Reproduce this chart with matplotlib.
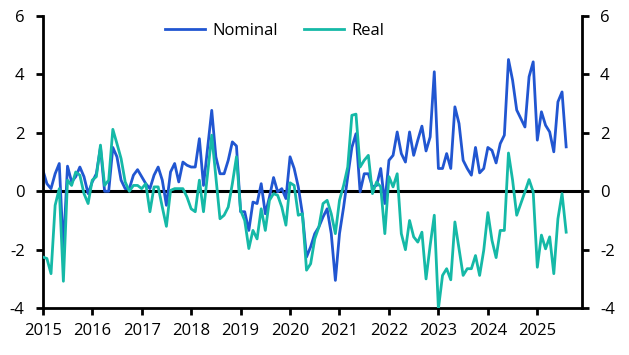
import matplotlib
matplotlib.use("Agg")
import matplotlib.pyplot as plt
import numpy as np

plt.rcParams['font.family'] = ['Open Sans', 'DejaVu Sans']
plt.rcParams['axes.unicode_minus'] = False

# monthly, Jan 2015 .. Aug 2025
start_year = 2015
nominal = [0.74, 0.26, 0.09, 0.6, 0.95, -2.0, 0.86, 0.32, 0.5, 0.83, 0.5, -0.08,
           0.32, 0.6, 1.5, 0.0, 0.0, 1.5, 1.18, 0.38, 0.09, 0.09, 0.55, 0.74,
           0.5, 0.26, 0.09, 0.55, 0.83, 0.38, -0.48, 0.66, 0.95, 0.32, 1.0, 0.89,
           0.83, 0.83, 1.8, 0.2, 1.5, 2.77, 1.18, 0.6, 0.6, 1.06, 1.69, 1.55,
           -0.7, -0.7, -1.34, -0.37, -0.42, 0.26, -0.77, -0.2, 0.47, -0.02, 0.09, -0.25,
           1.18, 0.78, 0.15, -0.77, -2.25, -1.9, -1.45, -1.22, -0.88, -0.6, -1.45, -3.05,
           -1.45, -0.54, 0.5, 1.5, 1.97, -0.02, 0.6, 0.6, 0.15, 0.2, 0.78, -0.42,
           1.06, 1.23, 2.03, 1.29, 1.0, 2.03, 1.23, 1.75, 2.23, 1.38, 1.86, 4.09,
           0.78, 0.78, 1.29, 0.78, 2.89, 2.32, 1.06, 0.78, 0.55, 1.5, 0.63, 0.78,
           1.5, 1.4, 0.97, 1.63, 1.92, 4.51, 3.8, 2.78, 2.49, 2.2, 3.92, 4.43,
           1.75, 2.72, 2.26, 2.03, 1.35, 3.06, 3.4, 1.52]
real = [-2.25, -2.3, -2.82, -0.48, 0.09, -3.08, 0.38, 0.2, 0.66, 0.55, -0.08, -0.42,
        0.38, 0.5, 1.58, 0.2, 0.38, 2.12, 1.63, 1.12, 0.32, 0.0, 0.2, 0.2,
        0.09, 0.26, -0.7, 0.15, 0.15, -0.54, -1.2, 0.03, 0.09, 0.09, 0.09, -0.2,
        -0.6, -0.7, 0.38, -0.7, 0.6, 1.92, 0.5, -0.94, -0.82, -0.54, 0.26, 1.18,
        -0.65, -1.0, -1.96, -1.34, -1.63, -0.6, -1.34, -0.31, -0.08, -0.14, -0.54, -1.16,
        0.29, 0.2, -0.82, -0.77, -2.7, -2.48, -1.63, -1.22, -0.42, -0.31, -0.77, -1.45,
        -0.31, 0.2, 0.83, 2.6, 2.64, 0.83, 1.06, 1.23, -0.08, 0.32, 0.15, -1.45,
        0.5, 0.15, 0.6, -1.45, -2.0, -1.0, -1.56, -1.74, -1.4, -3.0, -1.85, -0.82,
        -4.02, -2.88, -2.65, -3.03, -1.05, -1.97, -2.88, -2.65, -2.65, -2.2, -2.88, -2.02,
        -0.73, -1.68, -2.27, -1.34, -1.34, 1.31, 0.38, -0.82, -0.42, -0.02, 0.4, -0.02,
        -2.6, -1.5, -1.97, -1.56, -2.82, -0.94, -0.08, -1.4]
years = list(range(2015, 2026))
yticks = [-4, -2, 0, 2, 4, 6]

x = start_year + np.arange(len(nominal)) / 12.0

fig = plt.figure(figsize=(6.29, 3.55), dpi=100)
ax = fig.add_axes([0.068, 0.132, 0.857, 0.823])

ax.axhline(0, color='black', lw=2.2, zorder=1)
ax.plot(x, nominal, color='#2156D1', lw=2.0, label='Nominal', zorder=2)
ax.plot(x, real, color='#15B9A7', lw=2.0, label='Real', zorder=3)

ax.set_xlim(2015, 2025.9)
ax.set_ylim(-4, 6)
ax.set_xticks(years)
ax.set_yticks(yticks)

ax.spines['top'].set_visible(False)
for s in ['left', 'right', 'bottom']:
    ax.spines[s].set_linewidth(2.0)

ax.tick_params(axis='both', direction='out', length=5, width=2, labelsize=12)
ax.tick_params(axis='y', right=True, labelright=True, pad=8)
ax.tick_params(axis='x', pad=6)

ax.legend(loc='upper center', bbox_to_anchor=(0.43, 1.0), ncol=2, frameon=False,
          fontsize=12, handlelength=2.4, columnspacing=1.6, handletextpad=0.4,
          borderaxespad=0.0)

fig.savefig('out.png', dpi=100)
